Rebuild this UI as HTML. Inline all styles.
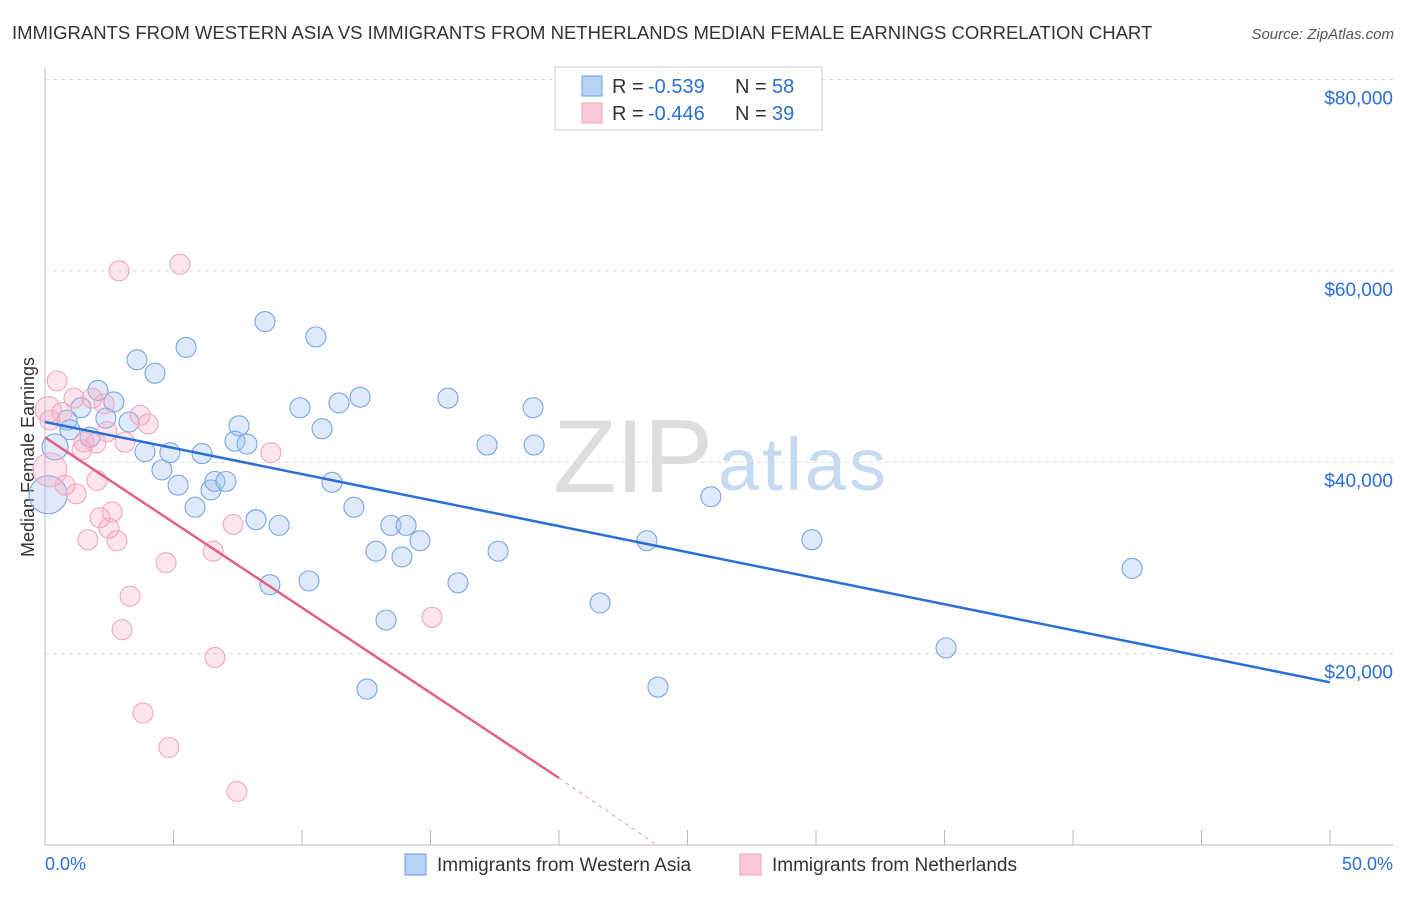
<!DOCTYPE html>
<html><head><meta charset="utf-8"><style>
body{margin:0;background:#fff;font-family:"Liberation Sans",sans-serif}
svg text{font-family:"Liberation Sans",sans-serif}
</style></head><body>
<svg id="c" width="1406" height="892">
<text x="12" y="39" font-size="18.5" fill="#333">IMMIGRANTS FROM WESTERN ASIA VS IMMIGRANTS FROM NETHERLANDS MEDIAN FEMALE EARNINGS CORRELATION CHART</text>
<text x="1394" y="39" font-size="15" fill="#555" text-anchor="end" font-style="italic">Source: ZipAtlas.com</text>
<text x="34" y="457" font-size="18" fill="#333" text-anchor="middle" transform="rotate(-90 34 457)">Median Female Earnings</text>
<text x="553" y="492" font-size="104" fill="#ddd" font-family="Liberation Serif" textLength="160">ZIP</text>
<text x="718" y="490" font-size="74" fill="#c8daf2" textLength="168">atlas</text>
<g id="grid"></g><g id="pts"></g><g id="lines"></g>
<g>
<rect x="555" y="67" width="267" height="63" fill="#fff" stroke="#ccc"/>
<rect x="582" y="76" width="20" height="20" fill="#b8d3f5" stroke="#6a9de0"/>
<rect x="582" y="103" width="20" height="20" fill="#fbc9d8" stroke="#f0a0ba"/>
<text x="612" y="93" font-size="20" fill="#333">R =</text>
<text x="648" y="93" font-size="20" fill="#2a6fd6">-0.539</text>
<text x="735" y="93" font-size="20" fill="#333">N =</text>
<text x="772" y="93" font-size="20" fill="#2a6fd6">58</text>
<text x="612" y="120" font-size="20" fill="#333">R =</text>
<text x="648" y="120" font-size="20" fill="#2a6fd6">-0.446</text>
<text x="735" y="120" font-size="20" fill="#333">N =</text>
<text x="772" y="120" font-size="20" fill="#2a6fd6">39</text>
</g>
<g>
<rect x="405" y="854" width="21" height="21" fill="#b8d3f5" stroke="#6a9de0"/>
<text x="437" y="871" font-size="19" fill="#333">Immigrants from Western Asia</text>
<rect x="740" y="854" width="21" height="21" fill="#fbc9d8" stroke="#f0a0ba"/>
<text x="772" y="871" font-size="19" fill="#333">Immigrants from Netherlands</text>
</g>
<text x="45" y="870" font-size="18" fill="#2a6fd6">0.0%</text>
<text x="1393" y="870" font-size="18" fill="#2a6fd6" text-anchor="end">50.0%</text>
</svg>
<script>
const yTicks=[20000,40000,60000,80000];
const yTickLabels=["$20,000","$40,000","$60,000","$80,000"];
const xTicks=[0,5,10,15,20,25,30,35,40,45,50];
const blueX=[8.56,10.54,5.49,3.58,4.28,2.06,2.68,1.40,0.86,2.37,3.27,0.97,1.75,0.39,0.12,3.89,4.86,6.11,4.55,5.18,6.46,6.61,7.04,5.84,7.55,7.39,7.86,9.92,11.44,12.26,10.78,11.17,12.02,8.21,9.11,13.46,14.05,14.59,12.88,13.89,10.27,8.75,16.07,17.63,13.27,12.53,15.68,18.99,17.20,19.03,25.91,23.42,21.60,23.85,29.84,35.06,42.30];
const blueY=[54.7,53.1,52.0,50.7,49.3,47.5,46.3,45.7,44.4,44.6,44.2,43.4,42.6,41.6,36.6,41.1,41.0,40.9,39.2,37.6,37.1,38.0,38.0,35.3,43.8,42.2,41.9,45.7,46.2,46.8,43.5,37.9,35.3,34.0,33.4,33.4,33.4,31.8,30.7,30.1,27.6,27.2,27.4,30.7,23.5,16.3,46.7,45.7,41.8,41.8,36.4,31.8,25.3,16.5,31.9,20.6,28.9];
const blueR=[10,10,10,10,10,10,10,10,10,10,10,10,10,13,19,10,10,10,10,10,10,10,10,10,10,10,10,10,10,10,10,10,10,10,10,10,10,10,10,10,10,10,10,10,10,10,10,10,10,10,10,10,10,10,10,10,10];
const pinkX=[2.88,5.25,0.47,0.12,0.66,1.13,1.83,2.30,3.70,4.01,0.19,1.52,1.98,3.11,2.41,1.44,0.19,0.78,1.21,2.02,2.14,2.49,2.80,1.67,2.61,4.71,6.54,7.32,8.79,3.31,3.00,6.61,15.06,3.81,4.82,7.47];
const pinkY=[60.0,60.7,48.5,45.5,45.2,46.7,46.7,46.1,44.9,44.0,44.4,42.1,42.0,42.1,43.2,41.3,39.2,37.6,36.7,38.1,34.2,33.1,31.8,31.9,34.8,29.5,30.7,33.5,41.0,26.0,22.5,19.6,23.8,13.8,10.2,5.6];
const pinkR=[10,10,10,13,10,10,10,10,10,10,10,10,10,10,10,10,17,10,10,10,10,10,10,10,10,10,10,10,10,10,10,10,10,10,10,10];
const blueLine=[[0,44.2],[50,17.0]];
const pinkLine=[[0,42.6],[20,7.0]];
const pinkDash=[[20,7.0],[23.8,0]];
const X=v=>45+v*25.7, Y=v=>845-v*1000/104.5;
const NS="http://www.w3.org/2000/svg";
function mk(t,a,p){const e=document.createElementNS(NS,t);for(const k in a)e.setAttribute(k,a[k]);p.appendChild(e);return e;}
const g=document.getElementById('grid');
yTicks.forEach((v,i)=>{
 const l=mk('line',{x1:45,x2:1393,y1:Y(v/1000),y2:Y(v/1000),stroke:'#ddd','stroke-dasharray':'4,4'},g);
 
 
 const t=mk('text',{x:1393,y:Y(v/1000)+25,'font-size':19,fill:'#2a6fd6','text-anchor':'end'},g);
 t.textContent=yTickLabels[i];
 
 
});
const ax=mk('line',{x1:45,x2:1393,y1:845,y2:845,stroke:'#bbb'},g);


const ay=mk('line',{x1:45,x2:45,y1:68,y2:845,stroke:'#bbb'},g);


xTicks.forEach(v=>{const t=mk('line',{x1:X(v),x2:X(v),y1:830,y2:845,stroke:'#bbb'},g);
 
 });
const p=document.getElementById('pts');
blueX.forEach((x,i)=>{const c=mk('circle',{cx:X(x),cy:Y(blueY[i]),r:blueR[i],fill:'rgba(160,195,240,0.35)',stroke:'#78a6e4','stroke-width':1.1},p);
 
 });
pinkX.forEach((x,i)=>{const c=mk('circle',{cx:X(x),cy:Y(pinkY[i]),r:pinkR[i],fill:'rgba(245,170,198,0.3)',stroke:'#f2a8c0','stroke-width':1.1},p);
 
 });
const L=document.getElementById('lines');
const b=mk('line',{x1:X(blueLine[0][0]),y1:Y(blueLine[0][1]),x2:X(blueLine[1][0]),y2:Y(blueLine[1][1]),stroke:'#2a6fd6','stroke-width':2.5},L);


const pk=mk('line',{x1:X(pinkLine[0][0]),y1:Y(pinkLine[0][1]),x2:X(pinkLine[1][0]),y2:Y(pinkLine[1][1]),stroke:'#e0608a','stroke-width':2.5},L);


const pd=mk('line',{x1:X(pinkDash[0][0]),y1:Y(pinkDash[0][1]),x2:X(pinkDash[1][0]),y2:Y(pinkDash[1][1]),stroke:'#e8a0b8','stroke-width':1,'stroke-dasharray':'4,4'},L);


</script>
</body></html>
